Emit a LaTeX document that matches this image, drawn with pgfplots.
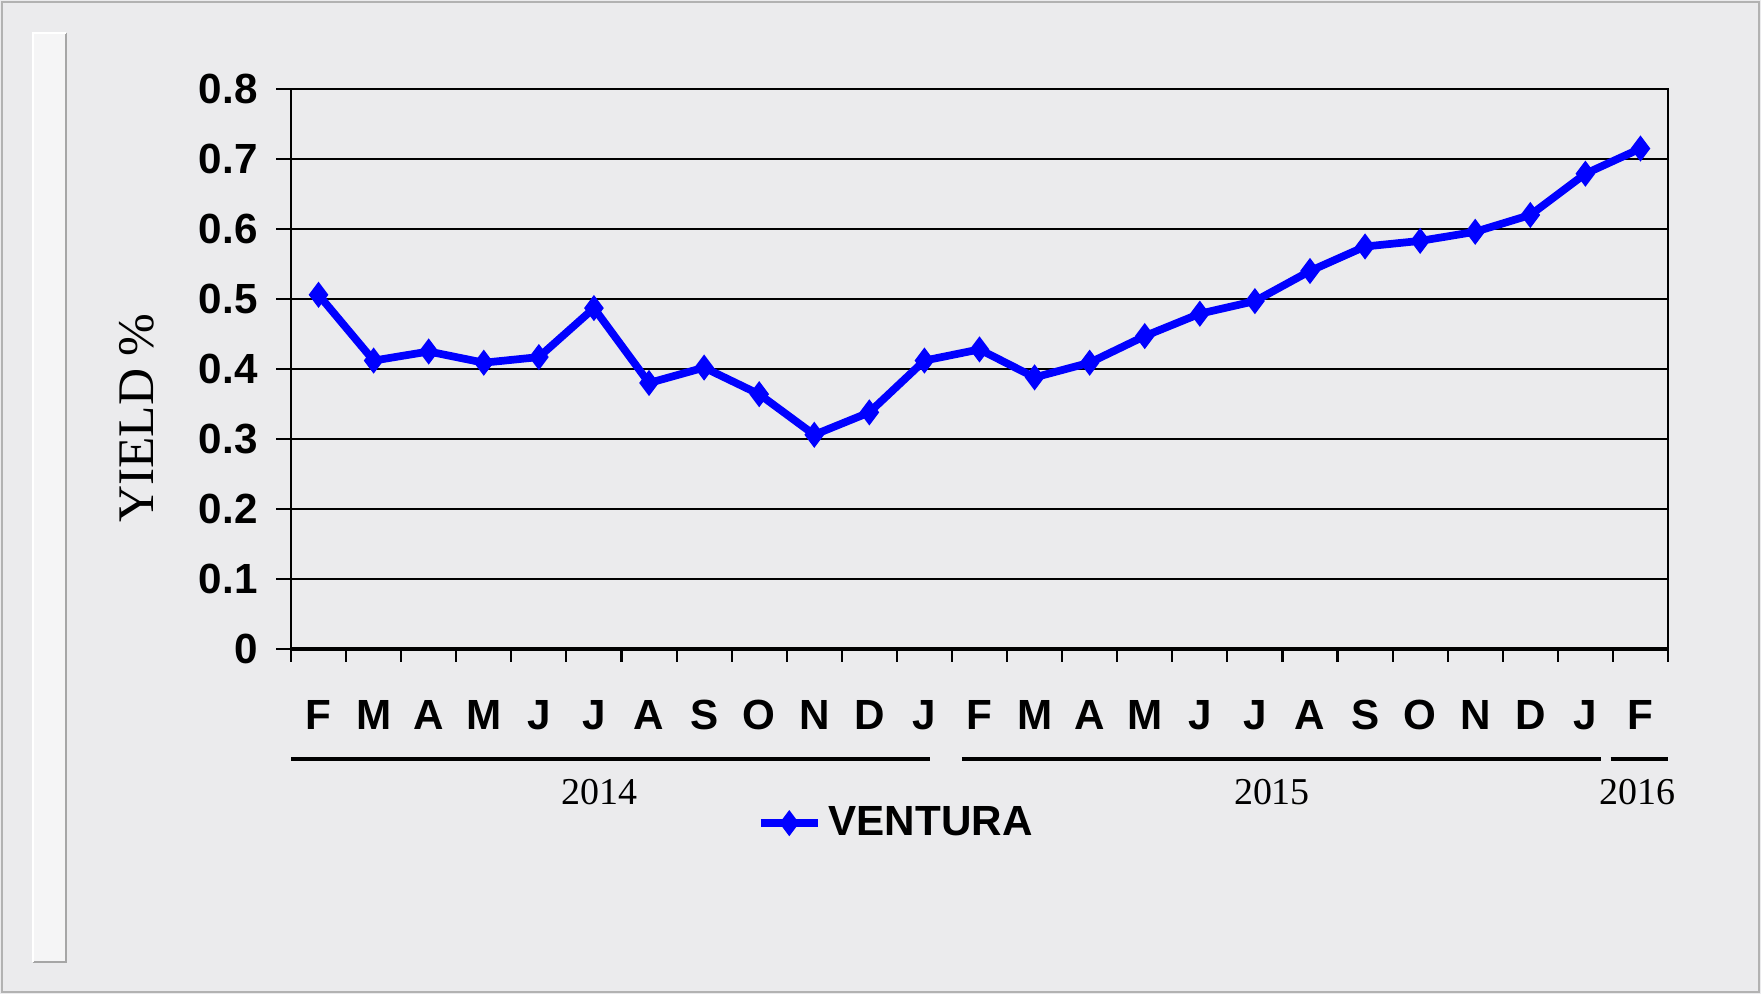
\documentclass[border=0pt]{standalone}
\usepackage{pgfplots}
\pgfplotsset{compat=1.18}
\usepackage{fontspec}
\setmainfont{Liberation Sans}
\newfontfamily\timesfont{Liberation Serif}
\definecolor{marble}{RGB}{235,235,237}
\definecolor{ventura}{RGB}{0,0,255}

\pgfplotstableread{
idx yield
0  0.506
1  0.412
2  0.425
3  0.409
4  0.417
5  0.487
6  0.380
7  0.402
8  0.364
9  0.306
10 0.338
11 0.412
12 0.428
13 0.388
14 0.409
15 0.447
16 0.479
17 0.497
18 0.540
19 0.575
20 0.583
21 0.596
22 0.620
23 0.679
24 0.715
}\ventura

\begin{document}
\begin{tikzpicture}
\useasboundingbox (0,0) rectangle (17.61,9.94);
\fill[marble] (0,0) rectangle (17.61,9.94);
\draw[gray!60, line width=0.6pt] (0.02,0.02) rectangle (17.59,9.92);
% narrow strip at the left
\fill[white!50!marble] (0.33,0.32) rectangle (0.66,9.61);
\draw[gray!70, line width=0.8pt] (0.33,0.32) -- (0.66,0.32) -- (0.66,9.61);
\draw[white, line width=0.8pt] (0.33,0.32) -- (0.33,9.61) -- (0.66,9.61);

\begin{axis}[
  at={(2.91cm,3.45cm)}, anchor=south west,
  scale only axis, width=13.77cm, height=5.60cm,
  xmin=-0.5, xmax=24.5, ymin=0, ymax=0.8,
  clip=false,
  axis line style={black, line width=0.6pt},
  ymajorgrids, grid style={black, line width=0.7pt},
  ytick={0,0.1,...,0.8},
  xtick={0,...,24},
  xticklabels={F,M,A,M,J,J,A,S,O,N,D,J,F,M,A,M,J,J,A,S,O,N,D,J,F},
  minor xtick={-0.5,0.5,...,24.5},
  tick pos=left, tick align=outside,
  tick style={black, line width=0.6pt},
  x tick style={draw=none},
  minor x tick style={draw=black, line width=0.6pt},
  minor tick length=1.3mm,
  major tick length=1.5mm,
  /pgf/number format/assume math mode=true,
  /pgf/number format/fixed,
  ticklabel style={font=\fontsize{12}{14}\selectfont\bfseries},
  xticklabel style={anchor=base, yshift=-6.6mm},
  yticklabel style={anchor=east},
  yticklabel shift=0.6mm,
  xticklabel shift=0pt,
  legend style={at={(rel axis cs:0.441,-0.311)}, anchor=center,
    draw=none, fill=none, font=\fontsize{12}{15}\selectfont\bfseries},
  legend image code/.code={
    \draw[#1, line width=2.2pt] (0cm,0cm) -- (0.57cm,0cm);
    \draw[#1, mark repeat=1, mark phase=1] plot coordinates {(0.285cm,0cm)};},
]
\addplot[ventura, line width=2.2pt, mark=diamond*, mark size=3.4pt,
  mark options={solid, fill=ventura, line width=0.4pt}]
  table[x=idx, y=yield] {\ventura};
\addlegendentry{VENTURA}

\draw[black, line width=1.1pt] (axis cs:-0.5,0) -- (axis cs:24.5,0);
\draw[black, line width=0.9pt] ([yshift=-11mm]axis cs:-0.5,0) -- ([yshift=-11mm]axis cs:11.1,0);
\draw[black, line width=0.9pt] ([yshift=-11mm]axis cs:11.68,0) -- ([yshift=-11mm]axis cs:23.28,0);
\draw[black, line width=0.9pt] ([yshift=-11mm]axis cs:23.46,0) -- ([yshift=-11mm]axis cs:24.5,0);
\node[font=\timesfont\fontsize{10.8}{13}\selectfont] at ([yshift=-14.3mm]axis cs:5.1,0) {2014};
\node[font=\timesfont\fontsize{10.8}{13}\selectfont] at ([yshift=-14.3mm]axis cs:17.31,0) {2015};
\node[font=\timesfont\fontsize{10.8}{13}\selectfont] at ([yshift=-14.3mm]axis cs:23.94,0) {2016};
\node[font=\timesfont\fontsize{14.6}{17}\selectfont, rotate=90] at ([xshift=-15.4mm]axis cs:-0.5,0.33) {YIELD \%};
\end{axis}
\end{tikzpicture}
\end{document}
